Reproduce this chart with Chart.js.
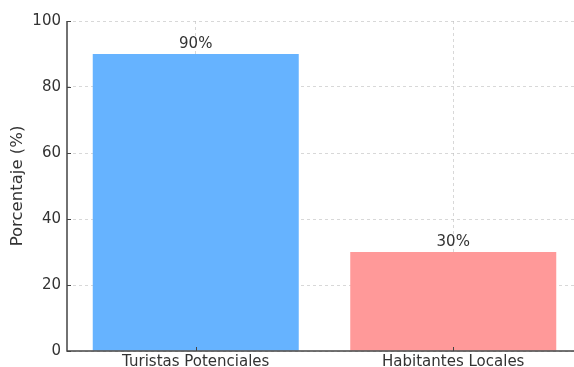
<!DOCTYPE html>
<html>
<head>
<meta charset="utf-8">
<script src="https://cdn.jsdelivr.net/npm/chart.js@4/dist/chart.umd.min.js"></script>
<style>
  html, body { margin: 0; padding: 0; background: #fff; overflow: hidden; }
  #wrap { width: 582px; height: 367px; position: relative; }
</style>
</head>
<body>
<div id="wrap"><canvas id="chart"></canvas></div>
<script>
const categories = ["Turistas Potenciales", "Habitantes Locales"];
const percentages = [90, 30];
const barColors = ["#66b3ff", "#ff9999"];
const yTicks = [0, 20, 40, 60, 80, 100];

const textColor = "#333333";
const font = { family: "DejaVu Sans", size: 15 };

// writes "90%" etc. above every bar
const valueLabels = {
  id: "valueLabels",
  afterDatasetsDraw(chart) {
    const { ctx } = chart;
    const meta = chart.getDatasetMeta(0);
    ctx.save();
    ctx.font = "15px 'DejaVu Sans'";
    ctx.fillStyle = textColor;
    ctx.textAlign = "center";
    ctx.textBaseline = "bottom";
    meta.data.forEach((bar, i) => {
      ctx.fillText(percentages[i] + "%", bar.x, bar.y - 2);
    });
    ctx.restore();
  },
};

// solid left/bottom spines with inward tick marks
const spines = {
  id: "spines",
  afterDraw(chart) {
    const { ctx, chartArea: a, scales } = chart;
    ctx.save();
    ctx.strokeStyle = "#444";
    ctx.lineWidth = 1;
    ctx.beginPath();
    scales.y.ticks.forEach((t) => {
      const py = Math.round(scales.y.getPixelForValue(t.value)) + 0.5;
      ctx.moveTo(a.left, py);
      ctx.lineTo(a.left + 4, py);
    });
    categories.forEach((c, i) => {
      const px = Math.round(scales.x.getPixelForValue(i)) + 0.5;
      ctx.moveTo(px, a.bottom);
      ctx.lineTo(px, a.bottom - 4);
    });
    ctx.stroke();
    ctx.lineWidth = 1.5;
    ctx.beginPath();
    ctx.moveTo(a.left, a.top);
    ctx.lineTo(a.left, a.bottom);
    ctx.lineTo(a.right, a.bottom);
    ctx.stroke();
    ctx.restore();
  },
};

new Chart(document.getElementById("chart"), {
  type: "bar",
  data: {
    labels: categories,
    datasets: [
      {
        data: percentages,
        backgroundColor: barColors,
        borderWidth: 0,
        barPercentage: 0.8,
        categoryPercentage: 1,
      },
    ],
  },
  options: {
    responsive: true,
    maintainAspectRatio: false,
    animation: false,
    layout: { padding: { top: 21, right: 0, left: 0, bottom: 0 } },
    plugins: { legend: { display: false }, tooltip: { enabled: false } },
    scales: {
      x: {
        z: 1,
        offset: true,
        grid: {
          offset: false,
          color: "rgba(190,190,190,0.6)",
          drawTicks: false,
        },
        border: { display: false, dash: [3, 3] },
        ticks: { color: textColor, font, padding: 2, maxRotation: 0 },
        afterFit: (s) => { s.height = 16; },
      },
      y: {
        z: 1,
        min: 0,
        max: 100,
        afterBuildTicks: (s) => { s.ticks = yTicks.map((v) => ({ value: v })); },
        grid: {
          color: "rgba(190,190,190,0.6)",
          drawTicks: false,
        },
        border: { display: false, dash: [3, 3] },
        ticks: { color: textColor, font, padding: 6 },
        title: { display: true, text: "Porcentaje (%)", color: textColor, font: { family: "DejaVu Sans", size: 16.5 }, padding: { top: 8, bottom: 4 } },
        afterFit: (s) => { s.width = 67; },
      },
    },
  },
  plugins: [valueLabels, spines],
});
</script>
</body>
</html>
